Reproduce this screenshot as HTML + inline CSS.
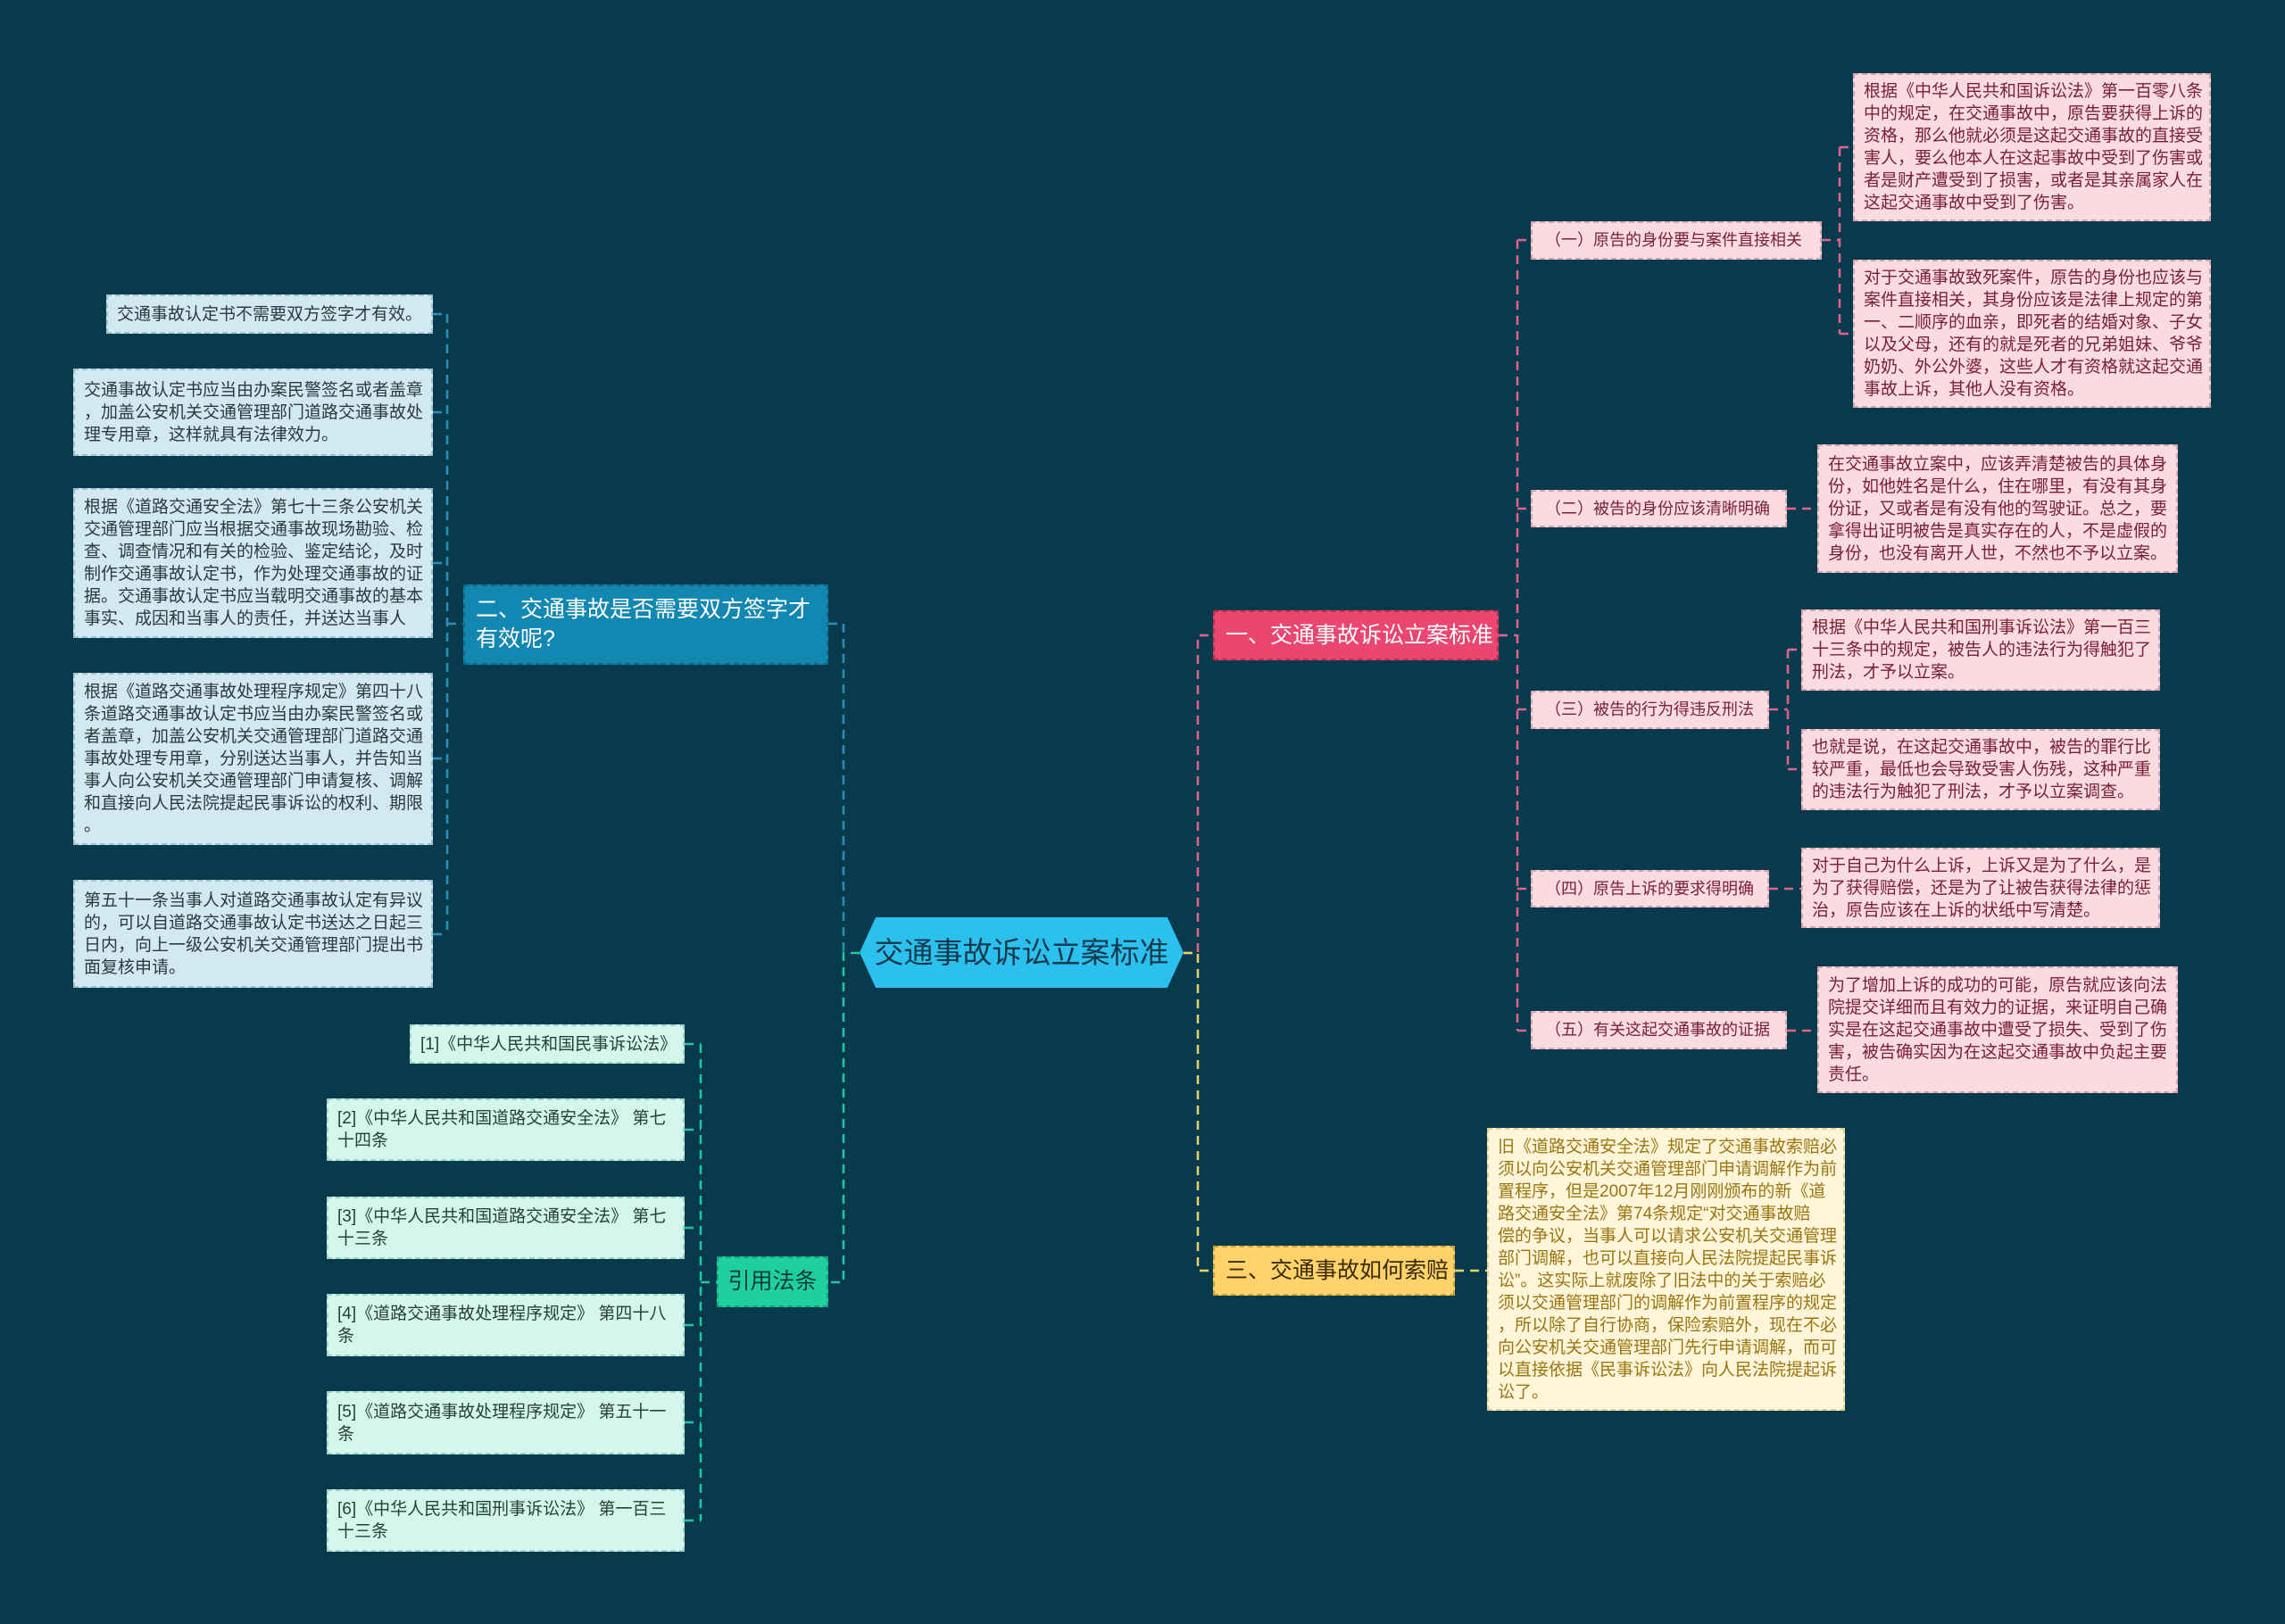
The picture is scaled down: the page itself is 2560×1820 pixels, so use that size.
<!DOCTYPE html>
<html><head><meta charset="utf-8">
<style>
body{margin:0;width:2560px;height:1820px;background:#083a4d;overflow:hidden;font-family:"Liberation Sans","Noto Sans CJK SC",sans-serif;position:relative}
.n{position:absolute;box-sizing:border-box;display:flex;align-items:center;white-space:nowrap;font-size:19px;line-height:25px}
.pk{background:#fbdbe2;color:#7a2036;border:2px dashed #d8a3b0;padding:0 10px}
.sub{font-size:18px;padding-left:14px !important;padding-right:4px}
.bl{background:#d3e9f0;color:#2a3a40;border:2px dashed #9cc3d0;padding:0 10px}
.gr{background:#d4f6ec;color:#27403a;border:2px dashed #9ad6c4;padding:0 10px}
.yl{background:#fff5d8;color:#9a7512;border:2px dashed #e3cf8e;padding:0 10px}
svg{position:absolute;left:0;top:0}
</style></head><body>
<svg width="2560" height="1820" fill="none" stroke-width="2.5" stroke-dasharray="10,7">
<g stroke="#2a8fb8">
<path d="M928,699 H945 V1068"/>
<path d="M501,352 V1047 M485,352 H501 M485,462 H501 M485,631 H501 M485,850 H501 M485,1047 H501 M501,699 H519"/>
</g>
<g stroke="#22c9a0">
<path d="M963,1068 H945 V1437 H928"/>
<path d="M785,1170 V1704 M767,1170 H785 M767,1266 H785 M767,1376 H785 M767,1485 H785 M767,1594 H785 M767,1704 H785 M785,1437 H803"/>
</g>
<g stroke="#e0638a">
<path d="M1326,1068 H1342 V712 H1359"/>
<path d="M1679,712 H1700 M1700,269 V1155 M1700,269 H1715 M1700,570 H1715 M1700,795 H1715 M1700,996 H1715 M1700,1155 H1715"/>
<path d="M2041,269 H2061 M2061,165 V374 M2061,165 H2076 M2061,374 H2076"/>
<path d="M2002,570 H2036 M1982,996 H2018 M2002,1155 H2036"/>
<path d="M1982,795 H2003 M2003,728 V862 M2003,728 H2018 M2003,862 H2018"/>
</g>
<g stroke="#e8d06a">
<path d="M1326,1068 H1342 V1424 H1359"/>
<path d="M1630,1424 H1666"/>
</g>
</svg>

<div class="n" style="left:963px;top:1028px;width:363px;height:79px;background:#2cc0ef;clip-path:polygon(5% 0,95% 0,100% 50%,95% 100%,5% 100%,0 50%);justify-content:center;font-size:33px;color:#123a4c">交通事故诉讼立案标准</div>

<div class="n" style="left:1359px;top:684px;width:320px;height:56px;background:#ea4670;color:#fff;font-size:25px;padding-left:12px;border:2px dashed #b23356">一、交通事故诉讼立案标准</div>
<div class="n" style="left:519px;top:655px;width:409px;height:90px;background:#1287b2;color:#fff;font-size:25px;line-height:33px;padding-left:12px;border:2px dashed #0d6a8c">二、交通事故是否需要双方签字才<br>有效呢?</div>
<div class="n" style="left:1359px;top:1396px;width:271px;height:56px;background:#ffd36a;color:#3a2b05;font-size:25px;padding-left:12px;border:2px dashed #c9a240">三、交通事故如何索赔</div>
<div class="n" style="left:803px;top:1408px;width:125px;height:57px;background:#1fcf9e;color:#0b3b30;font-size:25px;justify-content:center;border:2px dashed #16a27b">引用法条</div>

<div class="n pk sub" style="left:1715px;top:248px;width:326px;height:43px">（一）原告的身份要与案件直接相关</div>
<div class="n pk" style="left:2076px;top:82px;width:401px;height:166px">根据《中华人民共和国诉讼法》第一百零八条<br>中的规定，在交通事故中，原告要获得上诉的<br>资格，那么他就必须是这起交通事故的直接受<br>害人，要么他本人在这起事故中受到了伤害或<br>者是财产遭受到了损害，或者是其亲属家人在<br>这起交通事故中受到了伤害。</div>
<div class="n pk" style="left:2076px;top:291px;width:401px;height:166px">对于交通事故致死案件，原告的身份也应该与<br>案件直接相关，其身份应该是法律上规定的第<br>一、二顺序的血亲，即死者的结婚对象、子女<br>以及父母，还有的就是死者的兄弟姐妹、爷爷<br>奶奶、外公外婆，这些人才有资格就这起交通<br>事故上诉，其他人没有资格。</div>
<div class="n pk sub" style="left:1715px;top:549px;width:287px;height:42px">（二）被告的身份应该清晰明确</div>
<div class="n pk" style="left:2036px;top:498px;width:404px;height:144px">在交通事故立案中，应该弄清楚被告的具体身<br>份，如他姓名是什么，住在哪里，有没有其身<br>份证，又或者是有没有他的驾驶证。总之，要<br>拿得出证明被告是真实存在的人，不是虚假的<br>身份，也没有离开人世，不然也不予以立案。</div>
<div class="n pk sub" style="left:1715px;top:774px;width:267px;height:43px">（三）被告的行为得违反刑法</div>
<div class="n pk" style="left:2018px;top:683px;width:402px;height:91px">根据《中华人民共和国刑事诉讼法》第一百三<br>十三条中的规定，被告人的违法行为得触犯了<br>刑法，才予以立案。</div>
<div class="n pk" style="left:2018px;top:817px;width:402px;height:91px">也就是说，在这起交通事故中，被告的罪行比<br>较严重，最低也会导致受害人伤残，这种严重<br>的违法行为触犯了刑法，才予以立案调查。</div>
<div class="n pk sub" style="left:1715px;top:975px;width:267px;height:42px">（四）原告上诉的要求得明确</div>
<div class="n pk" style="left:2018px;top:950px;width:402px;height:90px">对于自己为什么上诉，上诉又是为了什么，是<br>为了获得赔偿，还是为了让被告获得法律的惩<br>治，原告应该在上诉的状纸中写清楚。</div>
<div class="n pk sub" style="left:1715px;top:1133px;width:287px;height:43px">（五）有关这起交通事故的证据</div>
<div class="n pk" style="left:2036px;top:1083px;width:404px;height:142px">为了增加上诉的成功的可能，原告就应该向法<br>院提交详细而且有效力的证据，来证明自己确<br>实是在这起交通事故中遭受了损失、受到了伤<br>害，被告确实因为在这起交通事故中负起主要<br>责任。</div>
<div class="n yl" style="left:1666px;top:1264px;width:401px;height:317px">旧《道路交通安全法》规定了交通事故索赔必<br>须以向公安机关交通管理部门申请调解作为前<br>置程序，但是2007年12月刚刚颁布的新《道<br>路交通安全法》第74条规定“对交通事故赔<br>偿的争议，当事人可以请求公安机关交通管理<br>部门调解，也可以直接向人民法院提起民事诉<br>讼”。这实际上就废除了旧法中的关于索赔必<br>须以交通管理部门的调解作为前置程序的规定<br>，所以除了自行协商，保险索赔外，现在不必<br>向公安机关交通管理部门先行申请调解，而可<br>以直接依据《民事诉讼法》向人民法院提起诉<br>讼了。</div>

<div class="n bl" style="left:119px;top:330px;width:366px;height:44px;padding-left:10px">交通事故认定书不需要双方签字才有效。</div>
<div class="n bl" style="left:82px;top:413px;width:403px;height:98px">交通事故认定书应当由办案民警签名或者盖章<br>，加盖公安机关交通管理部门道路交通事故处<br>理专用章，这样就具有法律效力。</div>
<div class="n bl" style="left:82px;top:547px;width:403px;height:168px">根据《道路交通安全法》第七十三条公安机关<br>交通管理部门应当根据交通事故现场勘验、检<br>查、调查情况和有关的检验、鉴定结论，及时<br>制作交通事故认定书，作为处理交通事故的证<br>据。交通事故认定书应当载明交通事故的基本<br>事实、成因和当事人的责任，并送达当事人</div>
<div class="n bl" style="left:82px;top:754px;width:403px;height:193px">根据《道路交通事故处理程序规定》第四十八<br>条道路交通事故认定书应当由办案民警签名或<br>者盖章，加盖公安机关交通管理部门道路交通<br>事故处理专用章，分别送达当事人，并告知当<br>事人向公安机关交通管理部门申请复核、调解<br>和直接向人民法院提起民事诉讼的权利、期限<br>。</div>
<div class="n bl" style="left:82px;top:986px;width:403px;height:121px">第五十一条当事人对道路交通事故认定有异议<br>的，可以自道路交通事故认定书送达之日起三<br>日内，向上一级公安机关交通管理部门提出书<br>面复核申请。</div>

<div class="n gr" style="left:459px;top:1148px;width:308px;height:44px">[1]《中华人民共和国民事诉讼法》</div>
<div class="n gr" style="left:366px;top:1231px;width:401px;height:70px">[2]《中华人民共和国道路交通安全法》 第七<br>十四条</div>
<div class="n gr" style="left:366px;top:1341px;width:401px;height:70px">[3]《中华人民共和国道路交通安全法》 第七<br>十三条</div>
<div class="n gr" style="left:366px;top:1450px;width:401px;height:70px">[4]《道路交通事故处理程序规定》 第四十八<br>条</div>
<div class="n gr" style="left:366px;top:1559px;width:401px;height:71px">[5]《道路交通事故处理程序规定》 第五十一<br>条</div>
<div class="n gr" style="left:366px;top:1669px;width:401px;height:70px">[6]《中华人民共和国刑事诉讼法》 第一百三<br>十三条</div>
</body></html>
